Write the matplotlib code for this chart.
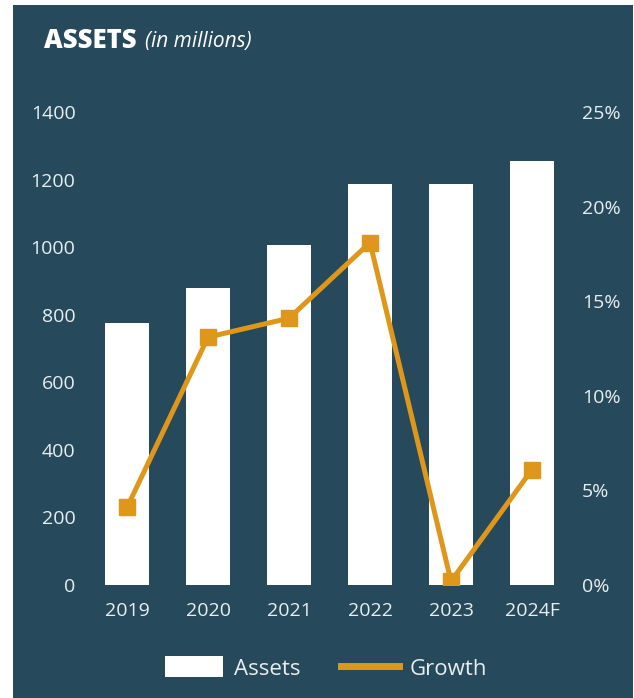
import matplotlib.pyplot as plt
from matplotlib.patches import Patch, Rectangle
from matplotlib.lines import Line2D
from matplotlib.ticker import FuncFormatter

plt.rcParams['font.family'] = ['Open Sans', 'DejaVu Sans']

# Asset totals (millions) and yearly growth (%)
years = ['2019', '2020', '2021', '2022', '2023', '2024F']
assets = [775, 880, 1005, 1188, 1188, 1255]
growth = [4.1, 13.1, 14.1, 18.1, 0.2, 6.1]

left_ticks = [0, 200, 400, 600, 800, 1000, 1200, 1400]
right_ticks = [0, 5, 10, 15, 20, 25]

bg = '#26495c'
orange = '#df971b'
txt = '#e9eef0'

fig = plt.figure(figsize=(6.34, 6.98), dpi=100, facecolor='white')
# dark panel behind everything, leaving a thin white margin on the left and top
fig.patches.append(Rectangle((13 / 634, 0), 620 / 634, 693 / 698,
                             transform=fig.transFigure, facecolor=bg,
                             edgecolor='none', zorder=-10))

ax = fig.add_axes([82.5 / 634, 113 / 698, 490 / 634, 473 / 698])
ax.set_facecolor('none')
x = range(len(years))
ax.bar(x, assets, width=0.54, color='white', zorder=2)
ax.set_xlim(-0.55, 5.5)
ax.set_ylim(0, 1400)
ax.set_yticks(left_ticks)
ax.set_xticks(list(x))
ax.set_xticklabels(years)
ax.tick_params(axis='y', length=0, pad=5, labelsize=14, labelcolor=txt)
ax.tick_params(axis='x', length=0, pad=12, labelsize=14, labelcolor=txt)

ax2 = ax.twinx()
ax2.set_facecolor('none')
ax2.plot(x, growth, color=orange, lw=3.6, marker='s', markersize=11.5,
         solid_joinstyle='miter', zorder=3)
ax2.set_ylim(0, 25)
ax2.set_yticks(right_ticks)
ax2.yaxis.set_major_formatter(FuncFormatter(lambda v, p: f'{v:.0f}%'))
ax2.tick_params(axis='y', length=0, pad=7, labelsize=14, labelcolor=txt)

for a in (ax, ax2):
    for s in a.spines.values():
        s.set_visible(False)

fig.text(44 / 634, 1 - 47.5 / 698, 'ASSETS', color='white', fontsize=18.5,
         fontweight='heavy', va='baseline', ha='left')
fig.text(145 / 634, 1 - 47.5 / 698, '(in millions)', color='white', fontsize=15,
         fontstyle='italic', va='baseline', ha='left')

handles = [Patch(facecolor='white', edgecolor='none', label='Assets'),
           Line2D([], [], color=orange, lw=5, label='Growth')]
leg = fig.legend(handles=handles, loc='center', ncol=2,
                 bbox_to_anchor=(326 / 634, 1 - 668 / 698), frameon=False,
                 fontsize=16, handlelength=2.6, handleheight=1.07,
                 handletextpad=0.5, columnspacing=1.83)
for t in leg.get_texts():
    t.set_color(txt)

fig.savefig('out.png', dpi=100, facecolor=fig.get_facecolor())
